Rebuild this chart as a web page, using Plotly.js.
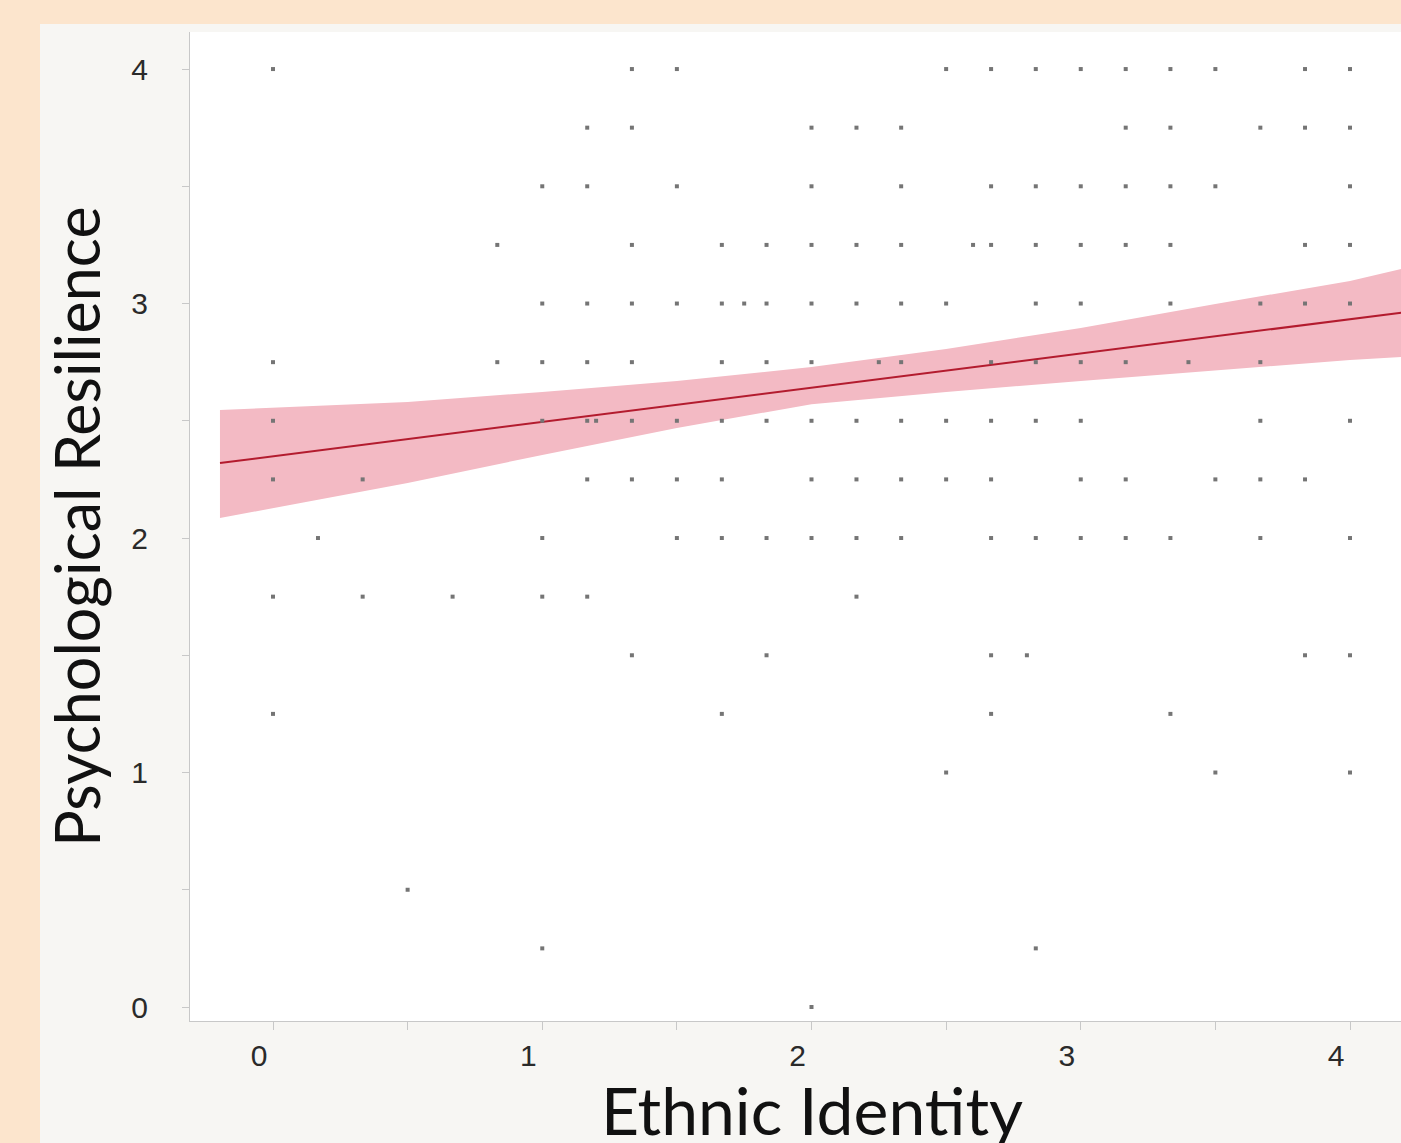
<!DOCTYPE html>
<html>
<head>
<meta charset="utf-8">
<script src="https://cdn.plot.ly/plotly-3.0.1.min.js"></script>
<style>
  html, body { margin: 0; padding: 0; width: 1401px; height: 1143px; overflow: hidden; background: #FCE5CD; }
  #chart { position: absolute; left: 40px; top: 24px; width: 1394px; height: 1125px; }
</style>
</head>
<body>
<div id="chart"></div>
<script>
// Ethnic Identity values of the observed points, one array per Psychological Resilience level
const resilienceLevels = [4.0, 3.75, 3.5, 3.25, 3.0, 2.75, 2.5, 2.25, 2.0, 1.75, 1.5, 1.25, 1.0, 0.5, 0.25, 0.0];
const identity_400 = [0, 1.333, 1.5, 2.5, 2.667, 2.833, 3, 3.167, 3.333, 3.5, 3.833, 4];
const identity_375 = [1.167, 1.333, 2, 2.167, 2.333, 3.167, 3.333, 3.667, 3.833, 4];
const identity_350 = [1, 1.167, 1.5, 2, 2.333, 2.667, 2.833, 3, 3.167, 3.333, 3.5, 4];
const identity_325 = [0.833, 1.333, 1.667, 1.833, 2, 2.167, 2.333, 2.6, 2.667, 2.833, 3, 3.167, 3.333, 3.833, 4];
const identity_300 = [1, 1.167, 1.333, 1.5, 1.667, 1.75, 1.833, 2, 2.167, 2.333, 2.5, 2.833, 3, 3.333, 3.667, 3.833, 4];
const identity_275 = [0, 0.833, 1, 1.167, 1.333, 1.667, 1.833, 2, 2.25, 2.333, 2.667, 2.833, 3, 3.167, 3.4, 3.667];
const identity_250 = [0, 1, 1.167, 1.2, 1.333, 1.5, 1.667, 1.833, 2, 2.167, 2.333, 2.5, 2.667, 2.833, 3, 3.667, 4];
const identity_225 = [0, 0.333, 1.167, 1.333, 1.5, 1.667, 2, 2.167, 2.333, 2.5, 2.667, 3, 3.167, 3.5, 3.667, 3.833];
const identity_200 = [0.167, 1, 1.5, 1.667, 1.833, 2, 2.167, 2.333, 2.667, 2.833, 3, 3.167, 3.333, 3.667, 4];
const identity_175 = [0, 0.333, 0.667, 1, 1.167, 2.167];
const identity_150 = [1.333, 1.833, 2.667, 2.8, 3.833, 4];
const identity_125 = [0, 1.667, 2.667, 3.333];
const identity_100 = [2.5, 3.5, 4];
const identity_050 = [0.5];
const identity_025 = [1, 2.833];
const identity_000 = [2];
const identityRows = [identity_400, identity_375, identity_350, identity_325, identity_300, identity_275,
  identity_250, identity_225, identity_200, identity_175, identity_150, identity_125, identity_100,
  identity_050, identity_025, identity_000];

// Fitted regression line and its confidence band
const fitX = [-0.197, 4.19];
const fitY = [2.32, 2.961];
const bandX = [-0.197, 0.5, 1.0, 1.5, 2.0, 2.5, 3.0, 3.5, 4.0, 4.19];
const bandUpper = [2.546, 2.580, 2.623, 2.670, 2.729, 2.806, 2.896, 2.998, 3.096, 3.147];
const bandLower = [2.085, 2.235, 2.354, 2.469, 2.571, 2.623, 2.670, 2.716, 2.759, 2.772];

const xTickVals = [0, 1, 2, 3, 4];
const yTickVals = [0, 1, 2, 3, 4];
const xTitle = 'Ethnic Identity';
const yTitle = 'Psychological Resilience';

const ptsX = [], ptsY = [];
identityRows.forEach((row, k) => row.forEach(v => { ptsX.push(v); ptsY.push(resilienceLevels[k]); }));

const traces = [
  { x: bandX, y: bandLower, type: 'scatter', mode: 'lines', line: { width: 0 }, hoverinfo: 'skip', showlegend: false },
  { x: bandX, y: bandUpper, type: 'scatter', mode: 'lines', line: { width: 0 }, fill: 'tonexty',
    fillcolor: 'rgb(243,186,196)', hoverinfo: 'skip', showlegend: false },
  { x: fitX, y: fitY, type: 'scatter', mode: 'lines', line: { color: '#B31B2E', width: 2 }, showlegend: false },
  { x: ptsX, y: ptsY, type: 'scatter', mode: 'markers',
    marker: { symbol: 'square', size: 4, color: '#757575' }, showlegend: false }
];

const tickFont = { family: 'Liberation Sans, Arial, sans-serif', size: 30, color: '#2a2a2a' };

const layout = {
  width: 1394, height: 1125,
  margin: { l: 150, r: 0, t: 8, b: 128 },
  paper_bgcolor: '#F7F6F3', plot_bgcolor: '#FFFFFF',
  showlegend: false,
  xaxis: {
    range: [-0.3083, 4.312], tickvals: xTickVals, ticktext: xTickVals.map(String),
    showgrid: false, zeroline: false, showline: true, linecolor: '#c8c8c8', linewidth: 1,
    ticks: 'outside', ticklen: 8, tickcolor: '#c8c8c8', tickfont: tickFont,
    ticklabelshift: -14, ticklabelstandoff: 0,
    minor: { dtick: 0.5, tick0: 0, ticks: 'outside', ticklen: 8, tickcolor: '#c8c8c8', showgrid: false },
    title: { text: xTitle, font: { family: 'Lato, sans-serif', size: 66, color: '#111111' }, standoff: 30 }
  },
  yaxis: {
    range: [-0.0597, 4.158], tickvals: yTickVals, ticktext: yTickVals.map(String),
    showgrid: false, zeroline: false, showline: true, linecolor: '#c8c8c8', linewidth: 1,
    ticks: 'outside', ticklen: 7, tickcolor: '#c8c8c8', tickfont: tickFont,
    ticklabelstandoff: 28,
    minor: { dtick: 0.5, tick0: 0, ticks: 'outside', ticklen: 7, tickcolor: '#c8c8c8', showgrid: false },
    title: { text: yTitle, font: { family: 'Lato, sans-serif', size: 61, color: '#111111' }, standoff: 11 }
  }
};

Plotly.newPlot('chart', traces, layout, { displayModeBar: false, staticPlot: true });
</script>
</body>
</html>
